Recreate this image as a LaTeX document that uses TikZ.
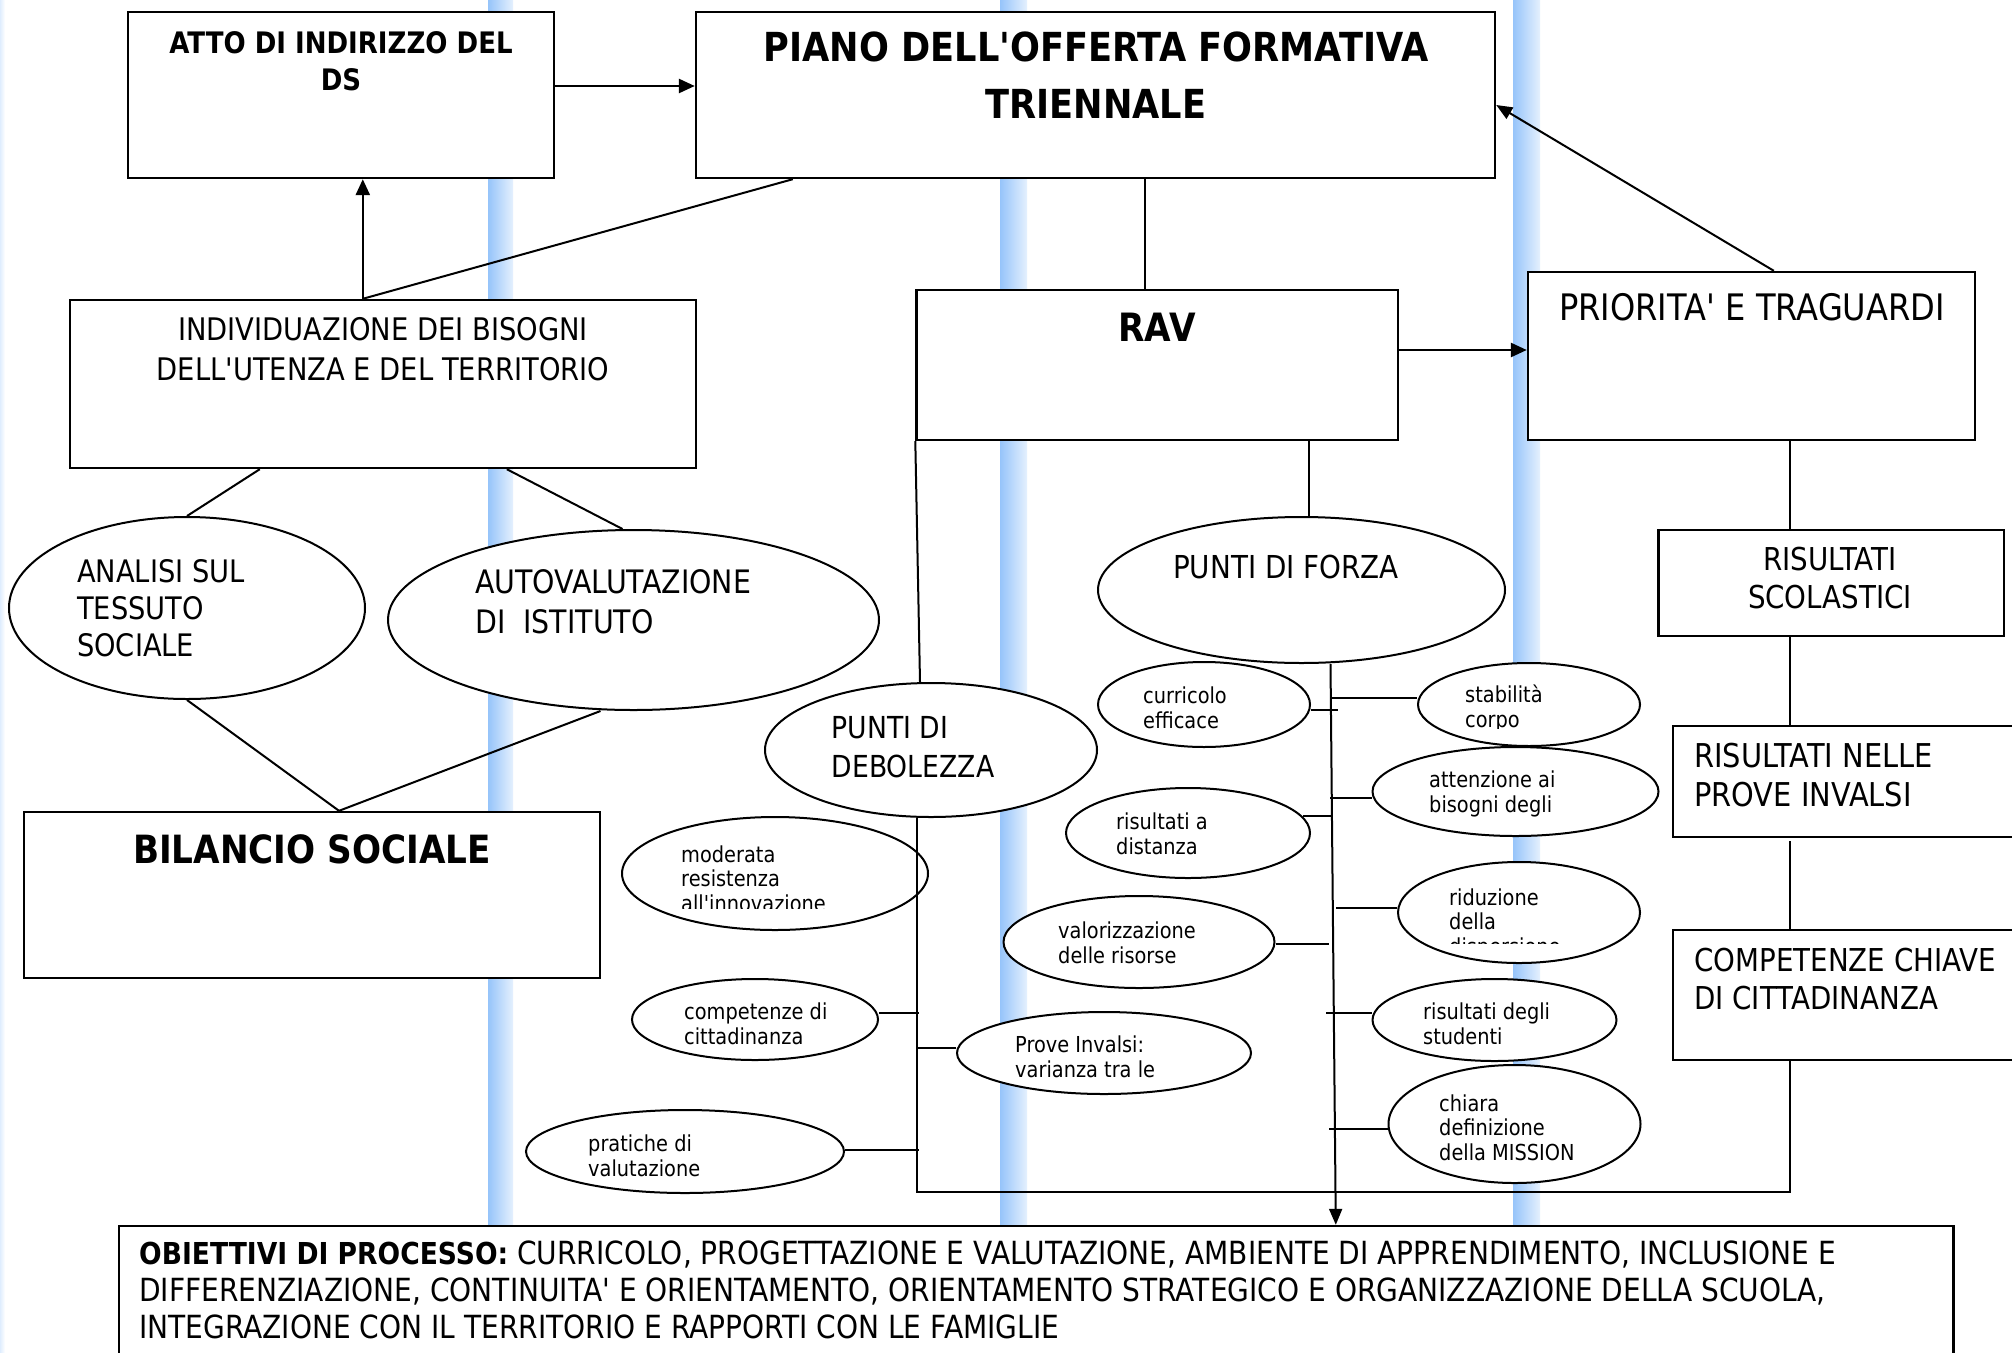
\documentclass[tikz,border=0pt]{standalone}
\usepackage{fontspec}
\setmainfont[FakeStretch=0.88,Ligatures=TeXOff]{DejaVu Sans}
\usetikzlibrary{shapes.geometric,arrows.meta,calc}
\definecolor{stripe}{RGB}{150,196,250}
\newcommand{\fsz}[2]{\fontsize{#1}{#2}\selectfont}
\begin{document}
\begin{tikzpicture}[x=1pt,y=-1pt,
  box/.style={draw, line width=2.4pt, fill=white, rectangle, inner sep=0pt},
  ell/.style={draw, line width=2pt, fill=white, ellipse, inner sep=0pt},
  con/.style={line width=2pt},
  arr/.style={line width=2.6pt, -{Triangle[length=16pt,width=14pt]}},
  arrthin/.style={line width=2pt, -{Triangle[length=16pt,width=13pt]}},
  lt/.style={inner sep=0pt, anchor=base west, align=left},
  ct/.style={inner sep=0pt, anchor=base, align=center},
  sm/.style={lt, font=\fsz{22}{24.5}}]
\useasboundingbox (0,0) rectangle (2012,1352);
\clip (0,0) rectangle (2012,1352);
\fill[white] (0,0) rectangle (2012,1352);
% background stripes
\shade[left color=stripe!30!white, right color=white] (0,0) rectangle (5,1352);
\shade[left color=stripe, right color=stripe!25!white] (488,0) rectangle (513,1352);
\shade[left color=stripe, right color=stripe!25!white] (1000,0) rectangle (1027,1352);
\shade[left color=stripe, right color=stripe!25!white] (1513,0) rectangle (1540,1352);

% boxes
\node[box, minimum width=426, minimum height=166] (atto) at (341,95) {};
\node[box, minimum width=799, minimum height=166] (piano) at (1095.5,95) {};
\node[box, minimum width=626, minimum height=168] (indiv) at (383,384) {};
\node[box, minimum width=481.5, minimum height=150] (rav) at (1157.25,365) {};
\node[box, minimum width=447, minimum height=168] (prio) at (1751.5,356) {};
\node[box, minimum width=576, minimum height=166] (bil) at (312,895) {};
\node[box, minimum width=345.5, minimum height=106] (rsc) at (1831.25,583) {};
\node[box, minimum width=343, minimum height=111] (rinv) at (1844.5,781.5) {};
\node[box, minimum width=343, minimum height=130] (comp) at (1844.5,995) {};
\node[box, minimum width=1834.5, minimum height=140] (obj) at (1036.25,1296) {};

% ellipses
\node[ell, minimum width=356, minimum height=182] (analisi) at (187,608) {};
\node[ell, minimum width=491, minimum height=180] (auto) at (633.5,620) {};
\node[ell, minimum width=407, minimum height=146] (forza) at (1301.5,590) {};
\node[ell, minimum width=332, minimum height=134] (deb) at (931,750) {};
\node[ell, minimum width=306, minimum height=113] (moder) at (775,873.5) {};
\node[ell, minimum width=246, minimum height=81] (compe) at (755,1019.5) {};
\node[ell, minimum width=294, minimum height=82] (prove) at (1104,1053) {};
\node[ell, minimum width=318, minimum height=83] (prat) at (685,1151.5) {};
\node[ell, minimum width=212, minimum height=85] (curr) at (1204,704.5) {};
\node[ell, minimum width=222, minimum height=83] (stab) at (1529,704.5) {};
\node[ell, minimum width=286, minimum height=89] (att) at (1515.5,791.5) {};
\node[ell, minimum width=244, minimum height=90] (dist) at (1188,833) {};
\node[ell, minimum width=242, minimum height=101] (rid) at (1519,912.5) {};
\node[ell, minimum width=271, minimum height=92] (val) at (1139,942) {};
\node[ell, minimum width=244, minimum height=82] (stud) at (1494.5,1020) {};
\node[ell, minimum width=252, minimum height=118] (chi) at (1514.5,1124) {};

% texts in boxes (anchor = baseline of last line)
\node[ct, font=\bfseries\fsz{29.6}{37}] (atto-t) at (341,90) {ATTO DI INDIRIZZO DEL\\DS};
\node[ct, font=\bfseries\fsz{40}{57}] (piano-t) at (1096,118) {PIANO DELL'OFFERTA FORMATIVA\\TRIENNALE};
\node[ct, font=\fsz{31.1}{40}] (indiv-t) at (383,380) {INDIVIDUAZIONE DEI BISOGNI\\DELL'UTENZA E DEL TERRITORIO};
\node[ct, font=\bfseries\fsz{39}{45}] (rav-t) at (1157,341.7) {RAV};
\node[ct, font=\fsz{36.5}{42}] (prio-t) at (1752,320) {PRIORITA' E TRAGUARDI};
\node[ct, font=\bfseries\fsz{38.9}{45}] (bil-t) at (312,863) {BILANCIO SOCIALE};
\node[ct, font=\fsz{31.5}{38}] (rsc-t) at (1830,608) {RISULTATI\\SCOLASTICI};
\node[lt, font=\fsz{32.8}{39}] (rinv-t) at (1694,806) {RISULTATI NELLE\\PROVE INVALSI};
\node[lt, font=\fsz{31.5}{38}] (comp-t) at (1694,1009) {COMPETENZE CHIAVE\\DI CITTADINANZA};
\node[lt, font=\fsz{31.9}{36.7}] (obj-t) at (139,1338) {{\bfseries\fontsize{30.2}{36.7}\selectfont OBIETTIVI DI PROCESSO:} CURRICOLO, PROGETTAZIONE E VALUTAZIONE, AMBIENTE DI APPRENDIMENTO, INCLUSIONE E\\DIFFERENZIAZIONE, CONTINUITA' E ORIENTAMENTO, ORIENTAMENTO STRATEGICO E ORGANIZZAZIONE DELLA SCUOLA,\\INTEGRAZIONE CON IL TERRITORIO E RAPPORTI CON LE FAMIGLIE};

% texts in ellipses
\node[lt, font=\fsz{31}{36.7}] (analisi-t) at (77,656) {ANALISI SUL\\TESSUTO\\SOCIALE};
\node[lt, font=\fsz{32.3}{40}] (auto-t) at (475,633) {AUTOVALUTAZIONE\\DI\ \ ISTITUTO};
\node[lt, font=\fsz{31.6}{40}] (forza-t) at (1173,578) {PUNTI DI FORZA};
\node[lt, font=\fsz{30.3}{39}] (deb-t) at (831.5,777) {PUNTI DI\\DEBOLEZZA};
\begin{scope}
  \clip (600,830) rectangle (950,908);
  \node[sm] (moder-t) at (681,911) {moderata\\resistenza\\all'innovazione};
\end{scope}
\node[sm] (compe-t) at (684,1044) {competenze di\\cittadinanza};
\node[sm] (prove-t) at (1015,1077) {Prove Invalsi:\\varianza tra le};
\node[sm] (prat-t) at (588,1176) {pratiche di\\valutazione};
\node[sm] (curr-t) at (1143,728) {curricolo\\efficace};
\begin{scope}
  \clip (1420,670) rectangle (1640,728);
  \node[sm] (stab-t) at (1465,727) {stabilità\\corpo};
\end{scope}
\node[sm] (att-t) at (1429,812) {attenzione ai\\bisogni degli};
\node[sm] (dist-t) at (1116,854) {risultati a\\distanza};
\begin{scope}
  \clip (1400,870) rectangle (1640,943);
  \node[sm] (rid-t) at (1449,954) {riduzione\\della\\dispersione};
\end{scope}
\node[sm] (val-t) at (1058,963) {valorizzazione\\delle risorse};
\node[sm] (stud-t) at (1423,1044) {risultati degli\\studenti};
\node[sm] (chi-t) at (1439,1160) {chiara\\definizione\\della MISSION};

% connectors
\draw[arr] ([yshift=9pt]atto.east) -- ([yshift=9pt]atto.east -| piano.west);
\coordinate (j1) at ($(indiv.north west)+(294,0)$);
\draw[arr] (j1) -- (j1 |- atto.south);
\draw[con] (j1) -- ($(piano.south west)+(98,0)$);
\draw[con] ($(piano.south west)+(450.5,0)$) -- ($(rav.north west)+(230,0)$);
\draw[arr] ([yshift=15pt]rav.east) -- ([yshift=15pt]rav.east -| prio.west);
\draw[arrthin] ($(prio.north west)+(247,0)$) -- ([yshift=-10pt]piano.east);
\coordinate (g1) at ($(rav.south west)+(394,0)$);
\draw[con] (g1) -- (g1 |- forza.north);
\draw[con] (rav.south west) -- ($(deb.north)+(-11,0)$);
\draw[con] ($(indiv.south west)+(191,0)$) -- (analisi.north);
\draw[con] ($(indiv.south west)+(438,0)$) -- ($(auto.north)+(-11,0)$);
\coordinate (bt) at ($(bil.north)+(27,0)$);
\draw[con] (analisi.south) -- (bt);
\draw[con] ($(auto.south)+(-33,0)$) -- (bt);
% priority chain
\coordinate (pv) at ($(prio.south west)+(263,0)$);
\draw[con] (pv) -- (pv |- rsc.north);
\draw[con] (pv |- rsc.south) -- (pv |- rinv.north);
\draw[con] ([yshift=-3pt]pv |- rinv.south) -- (pv |- comp.north);
% weakness bracket
\coordinate (dv) at ($(deb.south)+(-14.5,0)$);
\coordinate (bl) at ($(dv |- obj.north)+(0,-33)$);
\draw[con] (dv) -- (bl) -- (bl -| pv) -- (pv |- comp.south);
\draw[con] ($(compe.east)+(0,-6.5)$) -- ++(40,0);
\draw[con] ($(prove.west)+(0,-5)$) -- ++(-39,0);
\draw[con] ($(prat.east)+(0,-1.5)$) -- ++(74,0);
% strengths trunk
\coordinate (fvt) at ($(forza.south)+(29,0)$);
\coordinate (fvb) at ($(obj.north west)+(1218,0)$);
\draw[arrthin] (fvt) -- (fvb);
\draw[con] ($(curr.east)+(0,5.5)$) -- ++(27,0);
\draw[con] ($(stab.west)+(0,-6.5)$) -- ++(-87,0);
\draw[con] ($(att.west)+(0,6.5)$) -- ++(-41.5,0);
\draw[con] ($(dist.east)+(-8,-17)$) -- ++(29,0);
\draw[con] ($(rid.west)+(0,-4.5)$) -- ++(-61,0);
\draw[con] ($(val.east)+(0,2)$) -- ++(53,0);
\draw[con] ($(stud.west)+(0,-7)$) -- ++(-46,0);
\draw[con] ($(chi.west)+(0,5)$) -- ++(-59,0);
\end{tikzpicture}
\end{document}
